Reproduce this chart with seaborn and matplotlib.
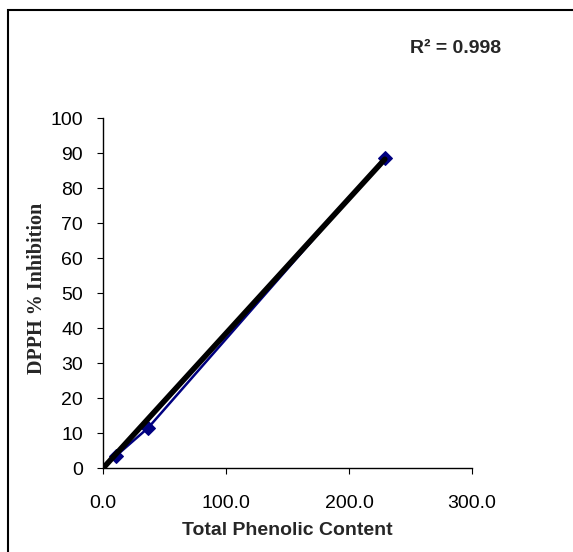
import numpy as np
import pandas as pd
import seaborn as sns
import matplotlib.pyplot as plt
from matplotlib.patches import Rectangle

# Data
phenolic = [10.5, 36.6, 229.0]
inhibition = [3.5, 11.5, 88.7]
r2_text = 'R² = 0.998'

df = pd.DataFrame({'TPC': phenolic, 'DPPH': inhibition})

# Linear trendline forced through the origin
slope = np.sum(df['TPC'] * df['DPPH']) / np.sum(df['TPC'] ** 2)
trend = pd.DataFrame({'TPC': [0, df['TPC'].max()]})
trend['DPPH'] = slope * trend['TPC']

sns.set_style('white')
plt.rcParams['font.family'] = ['Liberation Sans', 'DejaVu Sans']

fig = plt.figure(figsize=(5.73, 5.52), dpi=100)
ax = fig.add_axes([0.18, 0.152, 0.644, 0.634])

sns.lineplot(data=df, x='TPC', y='DPPH', ax=ax, color='#000080', lw=1.8,
             marker='D', markersize=7.5, markeredgecolor='#000080')
sns.lineplot(data=trend, x='TPC', y='DPPH', ax=ax, color='black', lw=4)

ax.set_xlim(0, 300)
ax.set_ylim(0, 100)
ax.set_xticks([0, 100, 200, 300])
ax.set_xticklabels([f'{v:.1f}' for v in [0, 100, 200, 300]])
ax.set_yticks(range(0, 101, 10))
ax.tick_params(axis='both', labelsize=14, direction='out', length=4.5, width=0.8,
               left=True, bottom=True, colors='black')
ax.tick_params(axis='x', pad=15)
ax.tick_params(axis='y', pad=10)
for s in ['top', 'right']:
    ax.spines[s].set_visible(False)
for s in ['left', 'bottom']:
    ax.spines[s].set_color('black')
    ax.spines[s].set_linewidth(1)

ax.set_xlabel('Total Phenolic Content', fontsize=14, fontweight='bold', labelpad=7)
ax.set_ylabel('DPPH % Inhibition', fontsize=14.5, fontweight='bold',
              family=['Liberation Serif', 'DejaVu Serif'])
ax.yaxis.set_label_coords(-0.152, 0.514)

fig.text(0.795, 0.913, r2_text, fontsize=14, fontweight='bold', ha='center', va='center')

fig.patches.append(Rectangle((0.014, -0.02), 1.0, 1.002, transform=fig.transFigure,
                             fill=False, edgecolor='black', lw=1.5))

fig.savefig('out.png', dpi=100)
